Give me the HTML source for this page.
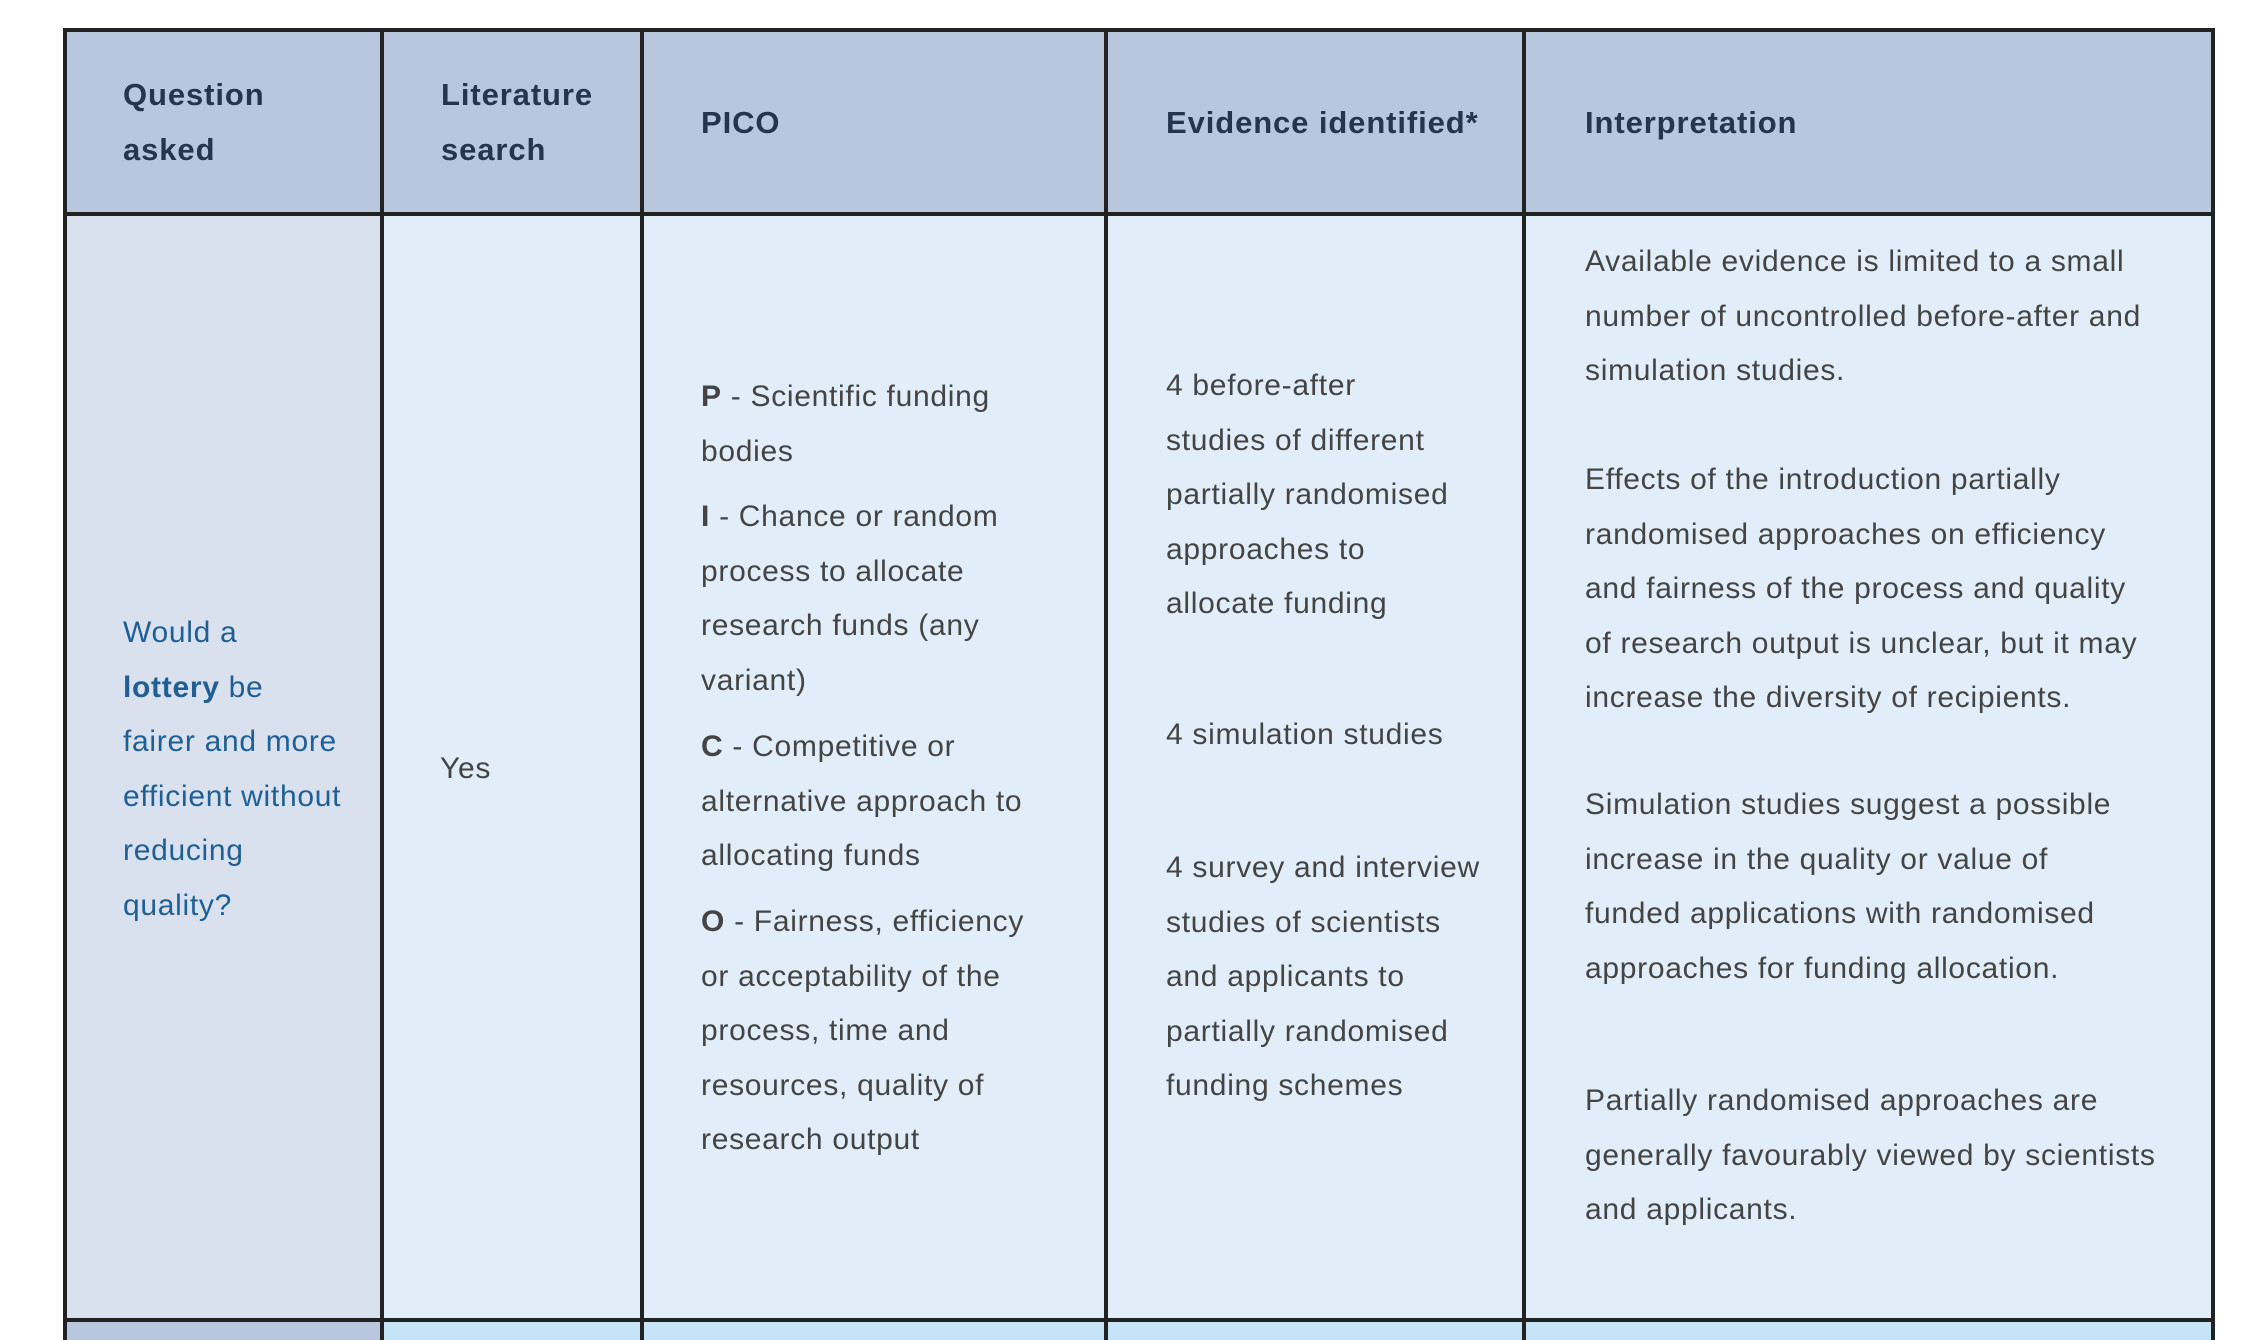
<!DOCTYPE html>
<html><head><meta charset="utf-8"><style>
html,body{margin:0;padding:0;width:2260px;height:1340px;overflow:hidden;background:#fff;position:relative;font-family:"Liberation Sans",Arial,sans-serif}
.r{position:absolute}
.t{position:absolute;white-space:nowrap;font-size:30px;line-height:54.5px;letter-spacing:0.7px;color:#444}
.h{color:#26344f;font-weight:bold;font-size:31px;letter-spacing:0.9px}
.q{color:#1f5f96}
.l{position:absolute;background:#222}
</style></head><body>
<div class="r" style="left:65px;top:30px;width:2148px;height:184px;background:#b9c7de"></div>
<div class="r" style="left:65px;top:214px;width:316px;height:1106px;background:#d9e0ee"></div>
<div class="r" style="left:381px;top:214px;width:1832px;height:1106px;background:#e1eefa"></div>
<div class="r" style="left:65px;top:1320px;width:316px;height:20px;background:#b9c7de"></div>
<div class="r" style="left:381px;top:1320px;width:1832px;height:20px;background:#c6e4f7"></div>
<div class="l" style="left:63px;top:28px;width:2152px;height:4px"></div>
<div class="l" style="left:63px;top:212px;width:2152px;height:4px"></div>
<div class="l" style="left:63px;top:1318px;width:2152px;height:4px"></div>
<div class="l" style="left:63px;top:28px;width:4px;height:1312px"></div>
<div class="l" style="left:380px;top:28px;width:4px;height:1312px"></div>
<div class="l" style="left:640px;top:28px;width:4px;height:1312px"></div>
<div class="l" style="left:1104px;top:28px;width:4px;height:1312px"></div>
<div class="l" style="left:1522px;top:28px;width:4px;height:1312px"></div>
<div class="l" style="left:2211px;top:28px;width:4px;height:1312px"></div>
<div class="t h" style="left:123px;top:68px">Question<br>asked</div>
<div class="t h" style="left:441px;top:68px">Literature<br>search</div>
<div class="t h" style="left:701px;top:96px">PICO</div>
<div class="t h" style="left:1166px;top:96px">Evidence identified*</div>
<div class="t h" style="left:1585px;top:96px">Interpretation</div>
<div class="t q" style="left:123px;top:606px">Would a<br><b>lottery</b> be<br>fairer and more<br>efficient without<br>reducing<br>quality?</div>
<div class="t" style="left:440px;top:742px">Yes</div>
<div class="t" style="left:701px;top:370px"><b>P</b> - Scientific funding<br>bodies</div>
<div class="t" style="left:701px;top:490px"><b>I</b> - Chance or random<br>process to allocate<br>research funds (any<br>variant)</div>
<div class="t" style="left:701px;top:720px"><b>C</b> - Competitive or<br>alternative approach to<br>allocating funds</div>
<div class="t" style="left:701px;top:895px"><b>O</b> - Fairness, efficiency<br>or acceptability of the<br>process, time and<br>resources, quality of<br>research output</div>
<div class="t" style="left:1166px;top:359px">4 before-after<br>studies of different<br>partially randomised<br>approaches to<br>allocate funding</div>
<div class="t" style="left:1166px;top:708px">4 simulation studies</div>
<div class="t" style="left:1166px;top:841px">4 survey and interview<br>studies of scientists<br>and applicants to<br>partially randomised<br>funding schemes</div>
<div class="t" style="left:1585px;top:235px">Available evidence is limited to a small<br>number of uncontrolled before-after and<br>simulation studies.</div>
<div class="t" style="left:1585px;top:453px">Effects of the introduction partially<br>randomised approaches on efficiency<br>and fairness of the process and quality<br>of research output is unclear, but it may<br>increase the diversity of recipients.</div>
<div class="t" style="left:1585px;top:778px">Simulation studies suggest a possible<br>increase in the quality or value of<br>funded applications with randomised<br>approaches for funding allocation.</div>
<div class="t" style="left:1585px;top:1074px">Partially randomised approaches are<br>generally favourably viewed by scientists<br>and applicants.</div>
</body></html>
